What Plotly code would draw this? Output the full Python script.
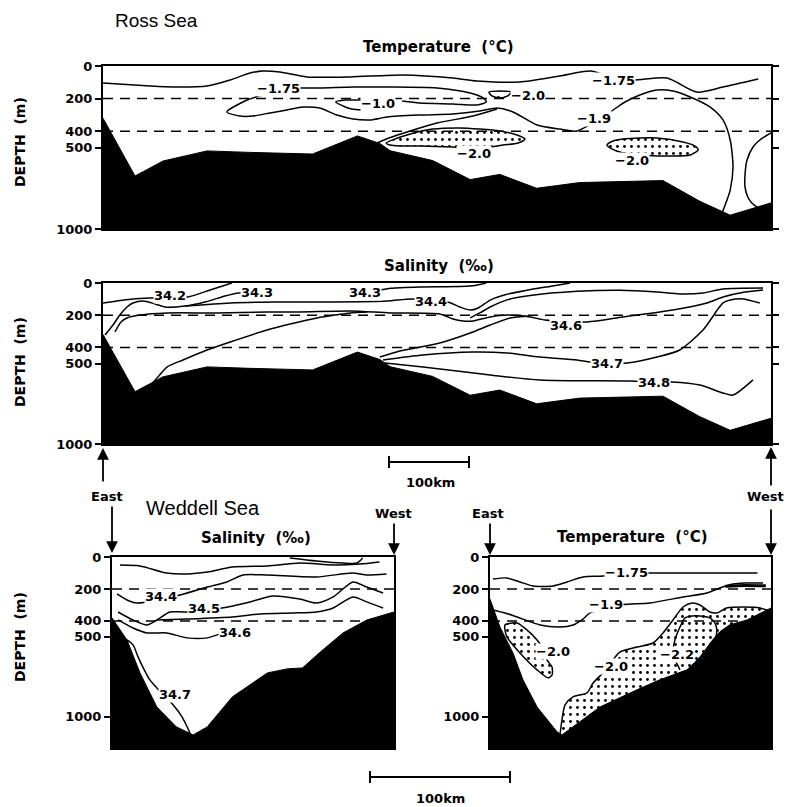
import plotly.graph_objects as go

W, H = 787, 807

# ---------------- DATA ----------------
depth_ticks = [0, 200, 400, 500, 1000]
depth_tick_text = ["0", "200", "400", "500", "1000"]
dashed_depths = [200, 400]

# ---- Ross Sea section (km from East end, depth m) ----
ross_span_km = 835
ross_max_depth = 1000
ross_bottom_km = [0, 40, 75, 130, 184, 262, 318, 346, 359, 412, 459, 496, 542, 596, 700, 746, 784, 831, 835]
ross_bottom_depth = [320, 675, 583, 521, 530, 540, 429, 475, 520, 580, 697, 665, 750, 715, 703, 830, 915, 850, 840]

# Ross temperature isotherms
rt_surface_km = [0, 58.8, 87.5, 130, 158.8, 183.8, 200, 221, 255, 309, 375, 437.5, 467.5, 521, 571, 609, 637, 662.5, 705, 742.5, 775, 819]
rt_surface_depth = [104, 123, 129, 123, 86, 43, 31, 37, 67, 67, 55, 74, 92, 98, 61, 31, 70, 86, 74, 160, 129, 80]
rt_tongue_km = [374, 396, 437.5, 467.5, 479, 475, 459, 417.5, 355, 312.5, 271, 246, 219, 199, 177.5, 155, 171, 187.5, 209, 230, 250, 271,
                292.5, 312.5, 334, 355, 396, 437.5, 471, 492.5, 512.5, 542.5, 571, 592.5, 634, 652.5, 671, 692.5, 712.5, 734,
                759, 775, 784, 787.5, 784, 780, 774]
rt_tongue_depth = [215, 227, 233, 239, 221, 196, 166, 135, 129, 129, 135, 135, 141, 178, 215, 282, 307, 307, 288, 270, 252, 258,
                   301, 325, 331, 313, 301, 294, 276, 258, 282, 362, 387, 399, 282, 221, 178, 147, 153, 190,
                   252, 331, 454, 620, 761, 822, 900]
rt_m10_km = [324, 302.5, 291, 300, 311, 324]
rt_m10_depth = [209, 209, 221, 245, 264, 270]
rt_riser_km = [342.5, 361, 380, 417.5, 462.5, 492.5]
rt_riser_depth = [472, 436, 405, 350, 307, 264]
rt_east_loop_km = [835, 821, 812.5, 805, 802.5, 802.5, 806, 811, 819]
rt_east_loop_depth = [411, 454, 497, 577, 669, 742, 804, 840, 870]
# Ross cold cores (< -2.0, stippled)
rt_core1_km = [482.5, 496, 510, 506, 496, 486, 482.5]
rt_core1_depth = [160, 153, 160, 184, 196, 184, 160]
rt_core2_km = [354, 365, 380, 412.5, 446, 471, 496, 517.5, 527.5, 519, 500, 484, 459, 437.5, 396, 371, 359, 354]
rt_core2_depth = [472, 448, 423, 387, 380, 387, 399, 423, 448, 472, 485, 497, 503, 497, 491, 491, 485, 472]
rt_core3_km = [630, 637.5, 650, 671, 692.5, 725, 740, 744, 734, 709, 692.5, 671, 650, 636, 630]
rt_core3_depth = [485, 460, 448, 442, 442, 466, 491, 515, 546, 552, 552, 546, 534, 509, 485]
rt_label_text = ["\u22121.75", "\u22121.0", "\u22122.0", "\u22121.75", "\u22121.9", "\u22122.0", "\u22122.0"]
rt_label_km = [219, 344, 531, 637.5, 614, 464, 661]
rt_label_depth = [141, 233, 178, 86, 319, 534, 577]

# Ross salinity isohalines
rs_342_km = [0, 37.5, 61, 106, 134, 161]
rs_342_depth = [124, 99, 93, 87, 43, 0]
rs_343a_km = [2.5, 12.5, 21, 30, 37.5, 50, 65, 77.5, 102.5, 127.5, 152.5, 169, 185]
rs_343a_depth = [323, 261, 199, 149, 124, 112, 130, 149, 143, 118, 81, 62, 60]
rs_343b_km = [345, 360, 396, 459, 474, 479]
rs_343b_depth = [45, 33, 25, 19, 6, 0]
rs_344_km = [102.5, 159, 212.5, 287.5, 355, 386, 431, 446, 459, 469, 484, 505, 530, 560, 584]
rs_344_depth = [143, 124, 118, 118, 112, 99, 118, 149, 168, 155, 106, 70, 45, 20, 0]
rs_345_km = [459, 471, 484, 505, 534, 592.5, 646, 692.5, 721, 750, 775, 825]
rs_345_depth = [217, 186, 149, 105, 78, 52, 45, 56, 68, 62, 37, 31]
rs_346_km = [15, 22.5, 30, 46, 80, 142.5, 205, 246, 309, 359, 421, 437.5, 450, 462.5, 484, 505, 534, 552.5, 605, 650, 712.5, 755, 775, 802.5, 825]
rs_346_depth = [304, 242, 217, 199, 186, 186, 180, 180, 174, 186, 193, 224, 236, 236, 211, 199, 211, 230, 242, 211, 168, 124, 87, 56, 43]
rs_tongue_km = [45, 59, 67.5, 80, 100, 130, 159, 205, 234, 267.5, 290, 309, 330]
rs_tongue_depth = [665, 634, 590, 522, 478, 416, 366, 292, 255, 217, 199, 186, 180]
rs_riser_km = [346, 371, 421, 459, 484, 509, 534]
rs_riser_depth = [460, 422, 373, 311, 261, 217, 205]
rs_347_km = [350, 400, 462.5, 505, 546, 592.5, 609, 630, 655, 692.5, 721, 750, 775, 784, 800, 821]
rs_347_depth = [478, 447, 429, 435, 460, 478, 491, 497, 497, 460, 416, 292, 124, 106, 99, 124]
rs_348_km = [352.5, 400, 484, 546, 659, 689, 711, 746, 775, 787.5, 812.5]
rs_348_depth = [497, 522, 571, 602, 609, 615, 615, 634, 683, 696, 602]
rs_label_text = ["34.2", "34.3", "34.3", "34.4", "34.6", "34.7", "34.8"]
rs_label_km = [84, 192.5, 327.5, 410, 579, 630, 689]
rs_label_depth = [75, 62, 62, 112, 267, 497, 615]

# ---- Weddell Sea section ----
wed_span_km_sal = 201.4
wed_span_km_temp = 200.7
wed_max_depth = 1195
ws_bottom_km = [0, 10.7, 20, 32, 46, 58, 68, 86, 111, 125, 136, 148, 165, 182, 201.4]
ws_bottom_depth = [381, 519, 725, 938, 1063, 1113, 1063, 875, 725, 700, 694, 600, 475, 394, 344]
wt_bottom_km = [0, 7.1, 16.4, 23.6, 33.6, 47.9, 51.4, 59.3, 78.6, 105, 121, 140.7, 150, 159, 164, 171, 183.5, 200.7]
wt_bottom_depth = [263, 438, 600, 769, 938, 1094, 1113, 1063, 938, 831, 769, 706, 625, 519, 469, 425, 394, 319]

# Weddell salinity isohalines
ws_top_km = [127, 146, 165, 175, 179]
ws_top_depth = [6, 25, 38, 38, 6]
ws_upper_km = [5.7, 20, 39, 53.6, 68, 86, 111, 134, 158, 177, 191]
ws_upper_depth = [50, 56, 100, 106, 94, 63, 56, 38, 50, 44, 31]
ws_344_km = [3.6, 10.7, 17.9, 48.6, 68, 82, 93.6, 111, 146, 172, 182, 196]
ws_344_depth = [231, 269, 288, 238, 188, 156, 113, 113, 125, 100, 113, 106]
ws_345_km = [4.3, 15, 25, 32, 41.4, 52.9, 78.6, 98.6, 115, 134, 146, 158, 172, 182, 193.6]
ws_345_depth = [344, 394, 425, 394, 344, 344, 319, 281, 244, 263, 288, 250, 156, 188, 225]
ws_355_km = [32, 53.6, 86, 106, 129, 146, 158, 172, 182, 193.6]
ws_355_depth = [394, 388, 375, 356, 350, 344, 319, 250, 281, 319]
ws_346_km = [4.3, 15, 25, 39, 53.6, 68, 78]
ws_346_depth = [394, 444, 475, 475, 506, 506, 478]
ws_347_km = [10.7, 15, 18.6, 22, 27, 32, 43.6, 50, 55.7]
ws_347_depth = [519, 550, 625, 688, 769, 819, 925, 1000, 1100]
ws_label_text = ["34.4", "34.5", "34.6", "34.7"]
ws_label_km = [35, 65.7, 88, 45]
ws_label_depth = [250, 325, 475, 863]

# Weddell temperature isotherms
wt_175_km = [2.1, 12, 21.4, 30.7, 45, 55, 66.4, 80.7, 97, 114, 126, 150, 173.6, 191]
wt_175_depth = [138, 131, 156, 181, 181, 156, 125, 119, 100, 100, 100, 100, 100, 100]
wt_19_km = [2.1, 10.7, 19.3, 35.7, 50, 59.3, 66.4, 71.4, 94, 114, 138, 155, 164, 173.6, 182, 195]
wt_19_depth = [331, 350, 375, 425, 438, 425, 388, 350, 300, 288, 250, 225, 194, 169, 163, 163]
wt_short_km = [168, 182, 197]
wt_short_depth = [183, 178, 180]
wt_core1_km = [10.7, 19.3, 26.4, 33.6, 39.3, 40.7, 44.3, 44.3, 41.4, 33.6, 21.4, 12.1, 10.7, 10.7]
wt_core1_depth = [425, 413, 456, 519, 594, 644, 688, 738, 756, 706, 600, 500, 456, 425]
wt_core2_km = [50, 51.4, 53.6, 59.3, 69.3, 73.6, 80.7, 85.7, 92.9, 105, 116.4, 123.6, 130.7, 137.9, 144.3, 150, 157, 162, 169, 180.7, 192.9, 200.7]
wt_core2_depth = [1113, 1019, 925, 875, 850, 788, 725, 669, 594, 563, 538, 475, 394, 313, 288, 300, 344, 350, 319, 313, 319, 344]
wt_22_km = [135.7, 132.9, 130.7, 132.1, 135.7, 139.3, 144.3, 150, 157, 160.7, 162, 161.4]
wt_22_depth = [706, 656, 600, 519, 438, 381, 369, 369, 381, 413, 456, 500]
wt_label_text = ["\u22121.75", "\u22121.9", "\u22122.0", "\u22122.0", "\u22122.2"]
wt_label_km = [97.5, 83, 45, 86.4, 133.6]
wt_label_depth = [94, 300, 594, 688, 613]

# ---------------- FIGURE ----------------
def PX(x):
    return x / W


def PY(y):
    return 1 - y / H


BOLD = dict(family="DejaVu Sans", color="black", weight="bold")
fig = go.Figure()

AX = {"rt": ("x", "y"), "rs": ("x2", "y2"), "ws": ("x3", "y3"), "wt": ("x4", "y4")}
SPAN = {"rt": ross_span_km, "rs": ross_span_km, "ws": wed_span_km_sal, "wt": wed_span_km_temp}
DMAX = {"rt": ross_max_depth, "rs": ross_max_depth, "ws": wed_max_depth, "wt": wed_max_depth}
PATTERN = dict(shape=".", size=7, solidity=0.13, fgcolor="black", fgopacity=1, bgcolor="white")


def line(p, xs, ys, width=1.5, shape="spline"):
    fig.add_trace(go.Scatter(x=xs, y=ys, mode="lines", xaxis=AX[p][0], yaxis=AX[p][1],
                             line=dict(color="black", width=width, shape=shape, smoothing=0.7),
                             hoverinfo="skip"))


def dotted(p, xs, ys, outline=True):
    fig.add_trace(go.Scatter(x=xs, y=ys, mode="lines", fill="toself", fillcolor="white",
                             fillpattern=PATTERN, xaxis=AX[p][0], yaxis=AX[p][1],
                             line=dict(color="black", width=1.5 if outline else 0, shape="spline", smoothing=0.7),
                             hoverinfo="skip"))


def dashes(p):
    for d in dashed_depths:
        fig.add_trace(go.Scatter(x=[0, SPAN[p]], y=[d, d], mode="lines", xaxis=AX[p][0], yaxis=AX[p][1],
                                 line=dict(color="black", width=1.5, dash="10px,7px"), hoverinfo="skip"))


def bottom(p, km, dep):
    fig.add_trace(go.Scatter(x=km + [km[-1], km[0]], y=dep + [DMAX[p], DMAX[p]], mode="lines",
                             fill="toself", fillcolor="black", xaxis=AX[p][0], yaxis=AX[p][1],
                             line=dict(color="black", width=1), hoverinfo="skip"))


def labels(p, texts, kms, deps):
    for t, k, d in zip(texts, kms, deps):
        fig.add_annotation(x=k, y=d, xref=AX[p][0], yref=AX[p][1], text=t, showarrow=False,
                           font=dict(size=13, **BOLD), bgcolor="white", borderpad=0)


# Ross temperature
dotted("rt", rt_core1_km, rt_core1_depth)
dotted("rt", rt_core2_km, rt_core2_depth)
dotted("rt", rt_core3_km, rt_core3_depth)
dashes("rt")
line("rt", rt_surface_km, rt_surface_depth)
line("rt", rt_tongue_km, rt_tongue_depth)
line("rt", rt_m10_km, rt_m10_depth)
line("rt", rt_riser_km, rt_riser_depth)
line("rt", rt_east_loop_km, rt_east_loop_depth)
bottom("rt", ross_bottom_km, ross_bottom_depth)
labels("rt", rt_label_text, rt_label_km, rt_label_depth)

# Ross salinity
dashes("rs")
for xs, ys in [(rs_342_km, rs_342_depth), (rs_343a_km, rs_343a_depth), (rs_343b_km, rs_343b_depth),
               (rs_344_km, rs_344_depth), (rs_345_km, rs_345_depth), (rs_346_km, rs_346_depth),
               (rs_tongue_km, rs_tongue_depth), (rs_riser_km, rs_riser_depth),
               (rs_347_km, rs_347_depth), (rs_348_km, rs_348_depth)]:
    line("rs", xs, ys)
bottom("rs", ross_bottom_km, ross_bottom_depth)
labels("rs", rs_label_text, rs_label_km, rs_label_depth)

# Weddell salinity
dashes("ws")
for xs, ys in [(ws_top_km, ws_top_depth), (ws_upper_km, ws_upper_depth), (ws_344_km, ws_344_depth),
               (ws_345_km, ws_345_depth), (ws_355_km, ws_355_depth), (ws_346_km, ws_346_depth),
               (ws_347_km, ws_347_depth)]:
    line("ws", xs, ys)
bottom("ws", ws_bottom_km, ws_bottom_depth)
labels("ws", ws_label_text, ws_label_km, ws_label_depth)

# Weddell temperature
dotted("wt", wt_core1_km, wt_core1_depth)
dotted("wt", wt_core2_km + [wt_core2_km[-1], wt_core2_km[0]],
       wt_core2_depth + [wed_max_depth, wed_max_depth], outline=False)
line("wt", wt_core2_km, wt_core2_depth)
dashes("wt")
line("wt", wt_175_km, wt_175_depth)
line("wt", wt_19_km, wt_19_depth)
line("wt", wt_short_km, wt_short_depth, width=3)
line("wt", wt_22_km, wt_22_depth)
bottom("wt", wt_bottom_km, wt_bottom_depth)
labels("wt", wt_label_text, wt_label_km, wt_label_depth)

# ---------------- AXES ----------------
xstyle = dict(showline=True, mirror=True, linewidth=2, linecolor="black", showticklabels=False,
              ticks="", showgrid=False, zeroline=False, fixedrange=True, automargin=False)


def ystyle(mirror):
    return dict(showline=True, mirror=mirror, linewidth=2, linecolor="black", ticks="outside",
                ticklen=6, tickwidth=2, tickcolor="black", tickvals=depth_ticks, ticktext=depth_tick_text,
                tickfont=dict(size=13, **BOLD), showgrid=False, zeroline=False, fixedrange=True,
                automargin=False)


fig.update_layout(
    width=W, height=H, autosize=False, margin=dict(l=0, r=0, t=0, b=0, pad=0, autoexpand=False),
    paper_bgcolor="white", plot_bgcolor="white", showlegend=False,
    xaxis=dict(domain=[PX(103), PX(771)], range=[0, ross_span_km], anchor="y", **xstyle),
    yaxis=dict(domain=[PY(229), PY(66)], range=[ross_max_depth, 0], anchor="x", **ystyle("ticks")),
    xaxis2=dict(domain=[PX(103), PX(771)], range=[0, ross_span_km], anchor="y2", **xstyle),
    yaxis2=dict(domain=[PY(444), PY(283)], range=[ross_max_depth, 0], anchor="x2", **ystyle("ticks")),
    xaxis3=dict(domain=[PX(112), PX(394)], range=[0, wed_span_km_sal], anchor="y3", **xstyle),
    yaxis3=dict(domain=[PY(748), PY(557)], range=[wed_max_depth, 0], anchor="x3", **ystyle(True)),
    xaxis4=dict(domain=[PX(490), PX(771)], range=[0, wed_span_km_temp], anchor="y4", **xstyle),
    yaxis4=dict(domain=[PY(748), PY(557)], range=[wed_max_depth, 0], anchor="x4", **ystyle(True)),
)

# ---------------- TEXT / DECORATION ----------------
def text(x, y, s, size=14, family="DejaVu Sans", bold=True, angle=0, xanchor="center"):
    f = dict(family=family, size=size, color="black")
    if bold:
        f["weight"] = "bold"
    fig.add_annotation(x=PX(x), y=PY(y), xref="paper", yref="paper", text=s, showarrow=False,
                       font=f, textangle=angle, xanchor=xanchor, yanchor="middle")


text(156, 20, "Ross Sea", size=19, family="Liberation Sans", bold=False)
text(203, 508, "Weddell Sea", size=20, family="Liberation Sans", bold=False)
text(438, 47, "Temperature\u00a0\u00a0(\u00b0C)", size=15)
text(439, 266, "Salinity\u00a0\u00a0(\u2030)", size=15)
text(256, 538, "Salinity\u00a0\u00a0(\u2030)", size=15)
text(632, 537, "Temperature\u00a0\u00a0(\u00b0C)", size=15)
for yc in (142, 362, 637):
    text(20, yc, "DEPTH\u00a0\u00a0(m)", size=14, angle=-90)

text(107, 496, "East", size=13)
text(393, 513, "West", size=13)
text(488, 513, "East", size=13)
text(786, 496, "West", size=13, xanchor="right")
text(430, 482, "100km", size=13)
text(440, 798, "100km", size=13)

# direction arrows: (head x, head y, tail y)
for hx, hy, ty in [(103, 448, 483), (112, 553, 505), (394, 555, 522), (490, 555, 522), (771, 447, 487), (771, 555, 508)]:
    fig.add_annotation(x=PX(hx), y=PY(hy), xref="paper", yref="paper", text="", showarrow=True,
                       ax=0, ay=ty - hy, arrowhead=2, arrowsize=1.3, arrowwidth=1.8, arrowcolor="black")

# scale bars
for x0, x1, yb in [(389, 469, 462), (370, 510, 777)]:
    fig.add_shape(type="line", xref="paper", yref="paper", x0=PX(x0), x1=PX(x1), y0=PY(yb), y1=PY(yb),
                  line=dict(color="black", width=2))
    for xe in (x0, x1):
        fig.add_shape(type="line", xref="paper", yref="paper", x0=PX(xe), x1=PX(xe), y0=PY(yb - 6), y1=PY(yb + 6),
                      line=dict(color="black", width=2))

fig.write_html("out.html", config={"displayModeBar": False},
               post_script="document.body.style.margin='0px';document.body.style.overflow='hidden';")
